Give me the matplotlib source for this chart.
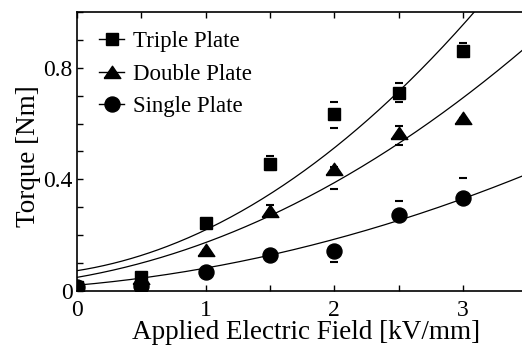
import matplotlib
matplotlib.use("Agg")
import matplotlib.pyplot as plt
import numpy as np
from matplotlib.ticker import MultipleLocator

plt.rcParams['font.family'] = ['Liberation Serif', 'DejaVu Serif']

# Data
field = [0, 0.5, 1, 1.5, 2, 2.5, 3]
triple = [0.015, 0.05, 0.243, 0.455, 0.634, 0.709, 0.862]
double = [0.012, 0.045, 0.146, 0.287, 0.436, 0.567, 0.619]
single = [0.012, 0.018, 0.068, 0.127, 0.141, 0.272, 0.332]

triple_err_lo = [0, 0, 0, 0.02, 0.051, 0.033, 0.024]
triple_err_hi = [0, 0, 0, 0.028, 0.042, 0.036, 0.027]
double_err_lo = [0, 0, 0, 0.01, 0.069, 0.044, 0]
double_err_hi = [0, 0, 0, 0.022, 0.01, 0.024, 0]
single_err_lo = [0, 0, 0, 0, 0.037, 0, 0]
single_err_hi = [0, 0, 0, 0, 0, 0.05, 0.073]

# Quadratic fit coefficients (a, b, c) for y = a + b*E + c*E^2
triple_fit = [0.072, 0.0725, 0.074]
double_fit = [0.048, 0.08, 0.045]
single_fit = [0.02, 0.0403, 0.0211]

labels = ['Triple Plate', 'Double Plate', 'Single Plate']
xticks = [0, 1, 2, 3]
yticks = [0, 0.4, 0.8]
ytick_labels = ['0', '0.4', '0.8']

fig = plt.figure(figsize=(5.22, 3.47), dpi=100)
ax = fig.add_axes([0.147, 0.162, 0.8637, 0.803])

tri_marker = [(-1, -0.72), (1, -0.72), (0, 0.75), (-1, -0.72)]

xs = np.linspace(0, 3.5, 300)
for coeffs in (triple_fit, double_fit, single_fit):
    a, b, c = coeffs
    ax.plot(xs, a + b * xs + c * xs ** 2, color='black', lw=0.9, zorder=2)

series = [
    (triple, triple_err_lo, triple_err_hi, 's', 9, 6),
    (double, double_err_lo, double_err_hi, tri_marker, 12, 5),
    (single, single_err_lo, single_err_hi, 'o', 10.8, 4),
]
handles = []
for (vals, lo, hi, mk, ms, z), lab in zip(series, labels):
    ax.errorbar(field, vals, yerr=[lo, hi], fmt='none', ecolor='black',
                elinewidth=0, capsize=3, capthick=1.5, zorder=3)
    ax.plot(field, vals, linestyle='none', marker=mk, markersize=ms,
            color='black', zorder=z)
    h, = ax.plot([], [], color='black', lw=1.0, marker=mk, markersize=ms)
    handles.append(h)

leg = ax.legend(handles, labels, loc='upper left', bbox_to_anchor=(0.05, 0.934),
                frameon=False, fontsize=16.5, handlelength=1.1, handletextpad=0.35,
                labelspacing=0.52, borderpad=0, borderaxespad=0)

ax.set_xlim(0, 3.5)
ax.set_ylim(0, 1.0)
ax.set_xticks(xticks)
ax.set_xticklabels([str(t) for t in xticks])
ax.xaxis.set_minor_locator(MultipleLocator(0.5))
ax.set_yticks(yticks)
ax.set_yticklabels(ytick_labels)
ax.yaxis.set_minor_locator(MultipleLocator(0.1))
ax.tick_params(which='both', direction='in', top=True, right=True,
               length=4, width=1.0, labelsize=17)
ax.tick_params(axis='x', which='both', pad=6.5)
ax.tick_params(axis='y', which='both', pad=3)
for s in ax.spines.values():
    s.set_linewidth(1.2)

ax.set_xlabel('Applied Electric Field [kV/mm]', fontsize=19.5)
ax.xaxis.set_label_coords(0.509, -0.15)
ax.xaxis.label.set_verticalalignment('center')
ax.set_ylabel('Torque [Nm]', fontsize=19.5)
ax.yaxis.set_label_coords(-0.107, 0.4815)
ax.yaxis.label.set_verticalalignment('center')

fig.savefig('out.png', dpi=100)
